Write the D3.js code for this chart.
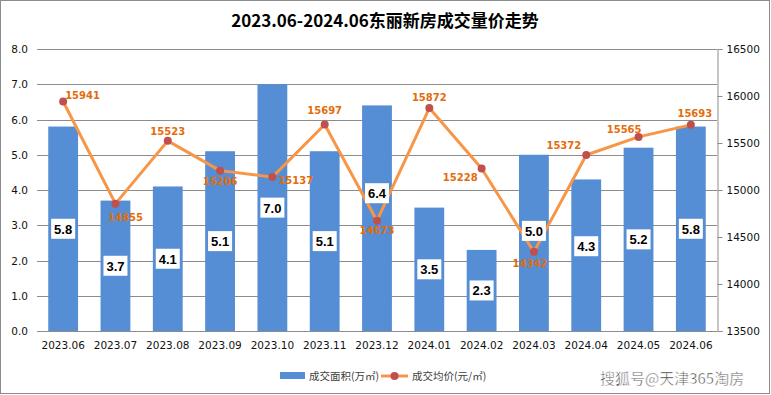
<!DOCTYPE html>
<html lang="zh">
<head>
<meta charset="UTF-8">
<title>东丽新房成交量价走势</title>
<script src="https://d3js.org/d3.v7.min.js"></script>
<style>
  body { margin: 0; background: #fff; }
  svg { display: block; }
</style>
</head>
<body>
<script>
// data
var months = ["2023.06","2023.07","2023.08","2023.09","2023.10","2023.11","2023.12",
              "2024.01","2024.02","2024.03","2024.04","2024.05","2024.06"];
var area = [5.8, 3.7, 4.1, 5.1, 7.0, 5.1, 6.4, 3.5, 2.3, 5.0, 4.3, 5.2, 5.8];   // 万㎡
var price = [15941, 14855, 15523, 15206, 15137, 15697, 14673, 15872, 15228, 14342, 15372, 15565, 15693]; // 元/㎡
var leftTicks = [0, 1, 2, 3, 4, 5, 6, 7, 8];
var rightTicks = [13500, 14000, 14500, 15000, 15500, 16000, 16500];

// hand-placed label tweaks (like in the original): [anchor, dx, dy]
var priceLabelPos = [
  ["start", 2, -3], ["middle", 10, 17], ["middle", 0, -6], ["middle", 0, 14],
  ["start", 6, 7], ["middle", 0, -10], ["middle", 0, 13], ["middle", 0, -7],
  ["end", -4, 12], ["middle", -4, 15], ["end", -5, -6], ["end", 3, -4], ["middle", 4, -8]
];
var areaLabelShift = [0, 0, 0, 0, 0, 0, -25, 0, 0, -12, -9, 0, 0];

var w = 771, h = 395;
var pLeft = 37, pRight = 717, pTop = 49, pBottom = 331;
var axisFont = "'DejaVu Sans', Tahoma, sans-serif";
var cjkFont = "'Noto Sans CJK SC', 'Microsoft YaHei', sans-serif";

var svg = d3.select("body").append("svg")
    .attr("width", w)
    .attr("height", h);

svg.append("rect")
    .attr("x", 0.5).attr("y", 0.5)
    .attr("width", 769).attr("height", 393)
    .attr("fill", "#fff")
    .attr("stroke", "#8c8c8c");

svg.append("text")
    .attr("x", 385).attr("y", 27)
    .attr("text-anchor", "middle")
    .style("font-family", cjkFont)
    .style("font-size", "17px")
    .style("font-weight", "bold")
    .attr("fill", "#000")
    .text("2023.06-2024.06东丽新房成交量价走势");

var x = d3.scaleBand().domain(months).range([pLeft, pRight]);
var yL = d3.scaleLinear().domain([0, 8]).range([pBottom, pTop]);
var yR = d3.scaleLinear().domain([13500, 16500]).range([pBottom, pTop]);
var barW = x.bandwidth() * 0.57;

// grid
svg.append("g").selectAll("line")
    .data(leftTicks)
    .enter().append("line")
    .attr("x1", pLeft).attr("x2", pRight)
    .attr("y1", function(d){ return Math.round(yL(d)) + 0.5; })
    .attr("y2", function(d){ return Math.round(yL(d)) + 0.5; })
    .attr("stroke", "#8c8c8c");

// left axis labels
svg.append("g").selectAll("text")
    .data(leftTicks)
    .enter().append("text")
    .attr("x", 28)
    .attr("y", function(d){ return yL(d) + 4; })
    .attr("text-anchor", "end")
    .style("font-family", axisFont)
    .style("font-size", "10.5px")
    .attr("fill", "#111")
    .text(function(d){ return d3.format(".1f")(d); });

// right axis
var rAxis = svg.append("g")
    .attr("transform", "translate(" + (pRight + 0.5) + ",0)")
    .call(d3.axisRight(yR).tickValues(rightTicks).tickSize(5).tickPadding(4).tickFormat(d3.format("d")));
rAxis.selectAll("path, line").attr("stroke", "#8c8c8c");
rAxis.selectAll("text")
    .style("font-family", axisFont)
    .style("font-size", "10.5px")
    .attr("fill", "#111");

// bottom labels
var xAxis = svg.append("g")
    .attr("transform", "translate(0," + pBottom + ")")
    .call(d3.axisBottom(x).tickSize(0).tickPadding(11));
xAxis.select("path").remove();
xAxis.selectAll("text")
    .style("font-family", axisFont)
    .style("font-size", "10.5px")
    .attr("fill", "#111");

// bars
svg.append("g").selectAll("rect")
    .data(area)
    .enter().append("rect")
    .attr("x", function(d, i){ return x(months[i]) + (x.bandwidth() - barW) / 2; })
    .attr("y", function(d){ return yL(d); })
    .attr("width", barW)
    .attr("height", function(d){ return pBottom - yL(d); })
    .attr("fill", "#558ed5");

// price line
var line = d3.line()
    .x(function(d, i){ return x(months[i]) + x.bandwidth() / 2; })
    .y(function(d){ return yR(d); });

svg.append("path")
    .datum(price)
    .attr("d", line)
    .attr("fill", "none")
    .attr("stroke", "#f79646")
    .attr("stroke-width", 3)
    .attr("stroke-linejoin", "round");

svg.append("g").selectAll("circle")
    .data(price)
    .enter().append("circle")
    .attr("cx", function(d, i){ return x(months[i]) + x.bandwidth() / 2; })
    .attr("cy", function(d){ return yR(d); })
    .attr("r", 4)
    .attr("fill", "#c0504d");

// area labels in white boxes
var al = svg.append("g").selectAll("g")
    .data(area)
    .enter().append("g")
    .attr("transform", function(d, i){
        var cx = x(months[i]) + x.bandwidth() / 2;
        var cy = yL(d / 2) + areaLabelShift[i];
        return "translate(" + cx + "," + cy + ")";
    });
al.append("rect")
    .attr("x", -12).attr("y", -10)
    .attr("width", 24).attr("height", 20)
    .attr("fill", "#fff");
al.append("text")
    .attr("y", 5)
    .attr("text-anchor", "middle")
    .style("font-family", "'Liberation Sans', Arial, sans-serif")
    .style("font-size", "13px")
    .style("font-weight", "bold")
    .attr("fill", "#000")
    .text(function(d){ return d3.format(".1f")(d); });

// price labels
svg.append("g").selectAll("text")
    .data(price)
    .enter().append("text")
    .attr("x", function(d, i){ return x(months[i]) + x.bandwidth() / 2 + priceLabelPos[i][1]; })
    .attr("y", function(d, i){ return yR(d) + priceLabelPos[i][2]; })
    .attr("text-anchor", function(d, i){ return priceLabelPos[i][0]; })
    .style("font-family", axisFont)
    .style("font-size", "10px")
    .style("font-weight", "bold")
    .attr("fill", "#e46c0a")
    .text(function(d){ return d; });

// legend
var lg = svg.append("g");
lg.append("rect")
    .attr("x", 280).attr("y", 372)
    .attr("width", 25).attr("height", 7)
    .attr("fill", "#558ed5");
lg.append("text")
    .attr("x", 309).attr("y", 380)
    .style("font-family", cjkFont)
    .style("font-size", "10.5px")
    .attr("fill", "#404040")
    .text("成交面积(万㎡)");
lg.append("line")
    .attr("x1", 381).attr("x2", 408)
    .attr("y1", 376).attr("y2", 376)
    .attr("stroke", "#f79646")
    .attr("stroke-width", 3);
lg.append("circle")
    .attr("cx", 394.5).attr("cy", 376)
    .attr("r", 4)
    .attr("fill", "#c0504d");
lg.append("text")
    .attr("x", 412).attr("y", 380)
    .style("font-family", cjkFont)
    .style("font-size", "10.5px")
    .attr("fill", "#404040")
    .text("成交均价(元/㎡)");

// watermark
svg.append("text")
    .attr("x", 600).attr("y", 384)
    .style("font-family", cjkFont)
    .style("font-size", "15px")
    .attr("fill", "#333")
    .attr("stroke", "#fff")
    .attr("stroke-width", 0.5)
    .text("搜狐号@天津365淘房");
</script>
</body>
</html>
